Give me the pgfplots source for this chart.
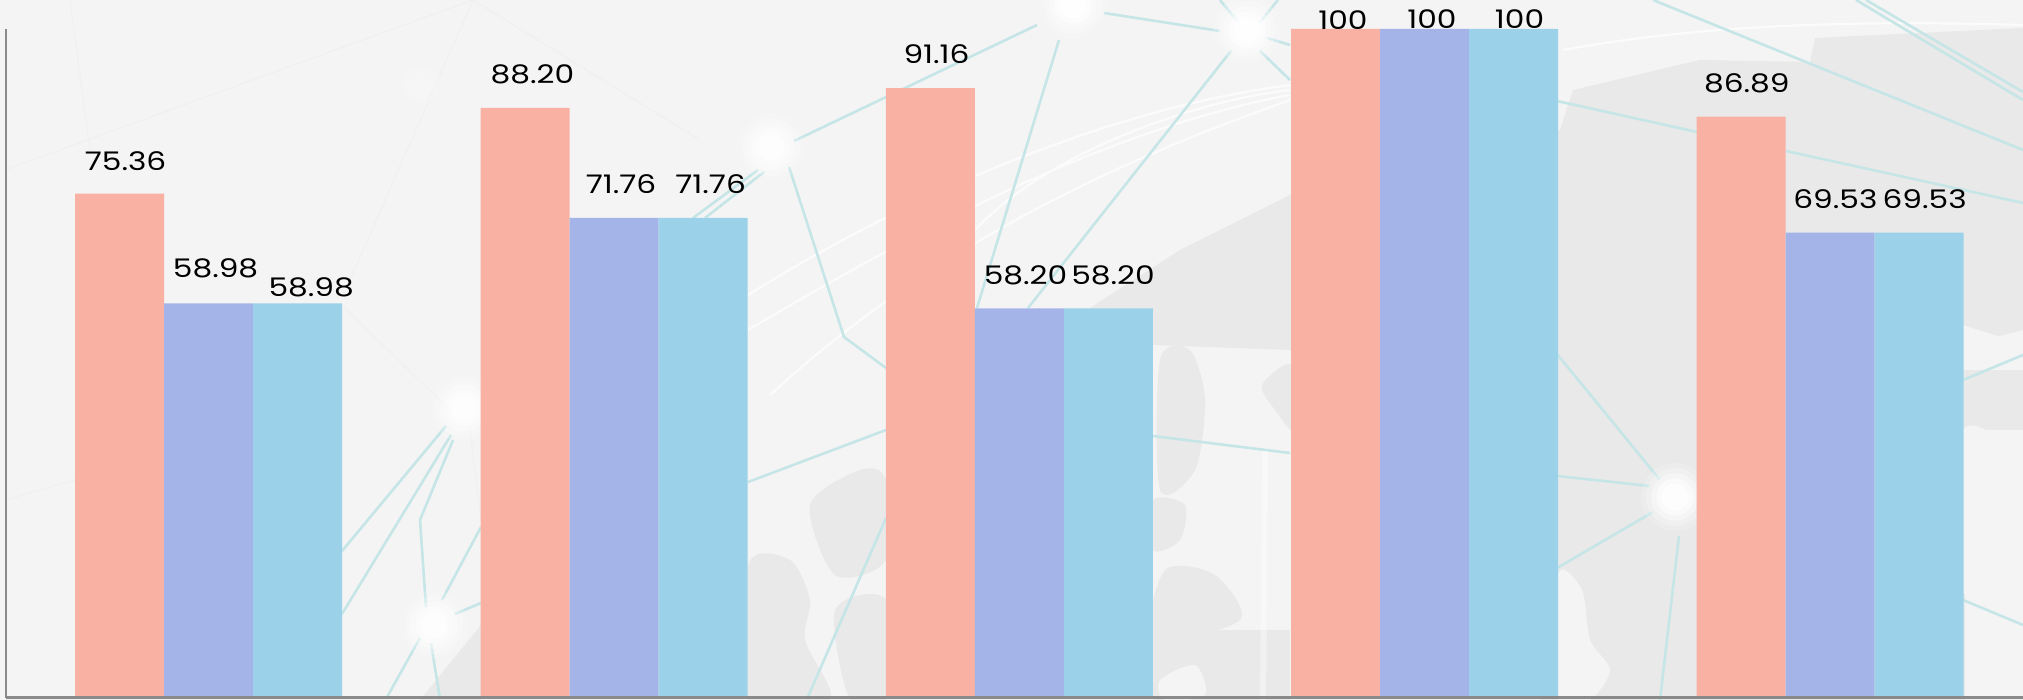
\documentclass[border=0pt]{standalone}
\usepackage{fontspec}
\setmainfont{Poppins}[FakeStretch=1.22]
\usepackage{pgfplots}
\usepackage{pgfplotstable}
\pgfplotsset{compat=1.18}
\definecolor{salmon}{HTML}{F8B1A3}
\definecolor{peri}{HTML}{A4B4E8}
\definecolor{sky}{HTML}{9BD2E9}
\definecolor{bgc}{HTML}{F4F4F4}
\definecolor{mapc}{HTML}{E9E9E9}
\definecolor{tealc}{HTML}{C6E5E7}
\definecolor{paleline}{HTML}{F0F0F0}
\definecolor{axc}{HTML}{8A8A8A}
\pgfplotstableread{
x y lab dx dy
0 75.36 75.36 5.9 33
1 88.20 88.20 7.4 34
2 91.16 91.16 6.2 34.4
3 100 100 7.3 8.5
4 86.89 86.89 5.8 33.4
}\seriesA
\pgfplotstableread{
x y lab dx dy
0 58.98 58.98 6.9 35
1 71.76 71.76 7.0 33.6
2 58.20 58.20 6.2 33
3 100 100 7.3 9.4
4 69.53 69.53 5.4 33.8
}\seriesB
\pgfplotstableread{
x y lab dx dy
0 58.98 58.98 13.5 16.2
1 71.76 71.76 7.6 33.6
2 58.20 58.20 4.7 33
3 100 100 5.9 9.4
4 69.53 69.53 5.6 33.8
}\seriesC
\newcommand{\glow}[3]{%
  \foreach \r/\o in {1.0/0.18,0.85/0.25,0.7/0.35,0.55/0.5,0.4/0.7}{%
    \pgfmathsetmacro{\oo}{\o*#3}%
    \fill[white,opacity=\oo] (#1,#2) circle[radius=\r*34];}}
\pgfplotsset{lbl/.style={
  point meta=explicit symbolic,
  visualization depends on={\thisrow{dx}\as\dxv},
  visualization depends on={\thisrow{dy}\as\dyv},
  nodes near coords,
  every node near coord/.style={anchor=center,inner sep=0pt,black,
     font=\fontsize{12.8}{14}\selectfont,
     xshift={(\dxv+#1)*0.5pt},yshift={\dyv*0.5pt}},
}}
\begin{document}
\begin{tikzpicture}
\useasboundingbox (-3pt,-1.2pt) rectangle (1008.5pt,348.8pt);
\begin{scope}[shift={(-3pt,348.8pt)},x=0.5pt,y=-0.5pt]
\clip (0,0) rectangle (2023,700);
\fill[bgc] (0,0) rectangle (2023,700);
% map
\fill[mapc] (1090,308) -- (1180,250) -- (1290,195) -- (1400,140) -- (1560,130) -- (1573,90) -- (1700,60) -- (1810,62) -- (1815,38) -- (2023,28) -- (2023,330) -- (1965,345) -- (1965,700) -- (1540,700) -- (1480,400) -- (1290,350) -- (1153,345) -- cycle;
\fill[mapc] plot[smooth cycle,tension=0.5] coordinates {(1160,360)(1190,350)(1205,400)(1195,470)(1160,490)};
\fill[mapc] plot[smooth cycle,tension=0.5] coordinates {(1262,385)(1292,365)(1295,430)(1275,410)};
\fill[mapc] plot[smooth cycle,tension=0.5] coordinates {(1153,500)(1185,505)(1180,540)(1153,550)};
\fill[mapc] plot[smooth cycle,tension=0.5] coordinates {(1165,570)(1215,575)(1240,620)(1153,640)};
\fill[mapc] (1153,630) rectangle (1290,700);
\fill[bgc] plot[smooth cycle,tension=0.5] coordinates {(1160,680)(1195,665)(1205,695)(1165,700)};
\fill[mapc] plot[smooth cycle,tension=0.5] coordinates {(748,565)(790,560)(810,600)(805,640)(830,700)(748,700)};
\fill[mapc] plot[smooth cycle,tension=0.5] coordinates {(810,505)(860,470)(886,480)(886,560)(835,575)};
\fill[mapc] plot[smooth cycle,tension=0.5] coordinates {(835,610)(886,600)(886,700)(850,700)};
\fill[mapc] (420,700) -- (481,625) -- (481,700) -- cycle;
\fill[bgc] plot[smooth cycle,tension=0.5] coordinates {(1558,575)(1582,590)(1590,640)(1610,670)(1590,700)(1558,700)};
\fill[bgc] (1963,325) -- (2010,340) -- (1990,372) -- (1963,385) -- cycle;
\fill[mapc] (1963,370) rectangle (2023,430);
\fill[bgc] plot[smooth cycle,tension=0.5] coordinates {(1963,430)(2023,470)(2023,610)(1963,590)};
% pale lines
\draw[paleline,line width=0.6pt] (473,0)--(350,280) (473,0)--(700,140) (473,0)--(5,170) (70,0)--(90,150) (342,305)--(470,430) (470,430)--(481,520) (5,500)--(75,480);
% white curves
\draw[white,opacity=0.7,line width=1.1pt]
 (1290,85) .. controls (1100,110) and (900,200) .. (748,295)
 (1290,95) .. controls (1100,130) and (900,240) .. (748,330)
 (1290,100) .. controls (1150,150) and (950,230) .. (770,395)
 (1290,90) .. controls (1200,100) and (1050,150) .. (975,230)
 (1563,50) .. controls (1700,25) and (1850,20) .. (2023,25);
\draw[white,opacity=0.4,line width=3pt] (1265,450) -- (1263,700);
% teal
\draw[tealc,line width=1.3pt]
 (446,426)--(342,551) (451,435)--(342,614) (453,440)--(420,520)--(426,607)
 (442,600)--(481,527) (455,614)--(481,603) (420,638)--(386,699) (431,643)--(440,699)
 (758,170)--(693,218) (764,172)--(705,218) (794,141)--(1037,25) (789,167)--(844,337)--(886,368)
 (1059,40)--(977,308) (1104,13)--(1220,31) (1231,51)--(1028,308)
 (1220,0)--(1238,22) (1278,0)--(1260,22) (1267,38)--(1290,45) (1260,51)--(1290,80)
 (748,482)--(886,430) (886,518)--(807,699) (1153,436)--(1290,453)
 (1557,101)--(1697,132) (1786,151)--(2023,203) (1557,354)--(1660,480) (1557,476)--(1650,486)
 (1557,568)--(1653,512) (1679,536)--(1660,700) (1653,0)--(2023,150)
 (1856,0)--(2023,100) (1866,0)--(2023,92) (1963,380)--(2023,355) (1963,600)--(2023,625);
% glows
\glow{464}{408}{0.9}
\glow{434}{625}{0.9}
\glow{771}{147}{0.8}
\glow{1073}{5}{1}
\glow{1247}{30}{1}
\glow{1675}{497}{1}
\glow{420}{85}{0.25}
\end{scope}
\begin{axis}[
  at={(0pt,0pt)},anchor=south west,
  scale only axis,width=1008.5pt,height=334.3pt,
  xmin=-0.5,xmax=4.476,ymin=0,ymax=100,
  axis x line=bottom,axis y line=left,
  axis line style={axc,line width=1.3pt,-},
  xtick=\empty,ytick=\empty,
  clip=false,
  axis on top,
]
\addplot[ybar,bar width=44.5pt,bar shift=-44.5pt,fill=salmon,draw=none,lbl=-89] table[x=x,y=y,meta=lab]{\seriesA};
\addplot[ybar,bar width=44.5pt,bar shift=0pt,fill=peri,draw=none,lbl=0] table[x=x,y=y,meta=lab]{\seriesB};
\addplot[ybar,bar width=44.5pt,bar shift=44.5pt,fill=sky,draw=none,lbl=89] table[x=x,y=y,meta=lab]{\seriesC};
\end{axis}
\end{tikzpicture}
\end{document}
